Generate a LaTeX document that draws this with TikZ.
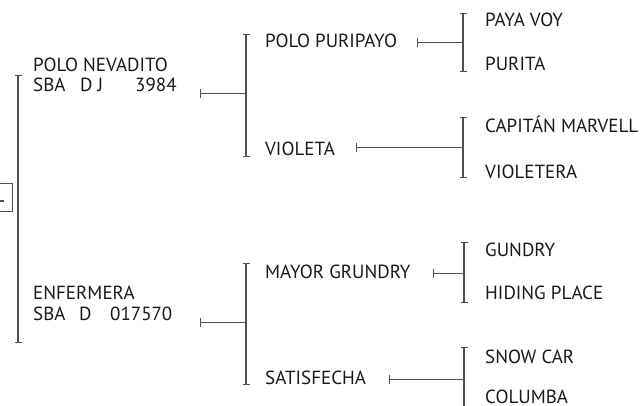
\documentclass[tikz,border=0pt]{standalone}
\usepackage{fontspec}
\setmainfont{PT Sans}
\usepackage{tikz}
\usetikzlibrary{arrows.meta,positioning,calc}
\definecolor{linegray}{RGB}{80,80,80}
\definecolor{textgray}{RGB}{25,25,25}

\tikzset{
    horse/.style={anchor=base west, inner sep=0pt, text=textgray, font=\fontsize{19}{21}\selectfont},
    bracket/.style={draw=linegray, line width=1.3pt, {Bar[width=7pt,line width=1pt]}-{Bar[width=7pt,line width=1pt]}},
    link/.style={draw=linegray, line width=1pt, {Bar[width=9pt,line width=1.2pt]}-}
}

\begin{document}
\begin{tikzpicture}[x=1pt, y=-1pt]
    \clip (0,0) rectangle (644,406);
    \useasboundingbox (0,0) rectangle (644,406);

    % collapse box on the left
    \node[draw=linegray, line width=1pt, minimum width=22pt, minimum height=28pt, inner sep=0pt] (toggle) at (1,197) {};
    \draw[linegray, line width=2pt] (0,201) -- (4,201);

    % parents
    \coordinate (b1t) at (18,75);
    \coordinate (b1b) at (18,343);
    \draw[bracket] (b1t) -- (b1b);
    \node[horse, align=left] (nevadito) at (33,92) {POLO NEVADITO\\[-1pt]\makebox[47pt][l]{SBA}\makebox[55pt][l]{D J}3984};
    \node[horse, align=left] (enfermera) at (33,320) {ENFERMERA\\[0pt]\makebox[46pt][l]{SBA}\makebox[31pt][l]{D}017570};

    % grandparents
    \coordinate (t1) at (200,94);
    \coordinate (b2t) at (246,34);
    \coordinate (b2b) at (246,157);
    \draw[link] (t1) -- (t1 -| b2t);
    \draw[bracket] (b2t) -- (b2b);
    \node[horse] (puripayo) at (265,48) {POLO PURIPAYO};
    \node[horse] (violeta) at (265,155) {VIOLETA};

    \coordinate (t2) at (200,322);
    \coordinate (b3t) at (246,263);
    \coordinate (b3b) at (246,385);
    \draw[link] (t2) -- (t2 -| b3t);
    \draw[bracket] (b3t) -- (b3b);
    \node[horse] (grundry) at (265,278) {MAYOR GRUNDRY};
    \node[horse] (satisfecha) at (265,384) {SATISFECHA};

    % great-grandparents
    \coordinate (t3) at (417,43);
    \coordinate (b4t) at (463,13);
    \coordinate (b4b) at (463,72);
    \draw[link] (t3) -- (t3 -| b4t);
    \draw[bracket] (b4t) -- (b4b);
    \node[horse] (payavoy) at (485,27) {PAYA VOY};
    \node[horse] (purita) at (485,71) {PURITA};

    \coordinate (t4) at (356,148);
    \coordinate (b5t) at (463,117);
    \coordinate (b5b) at (463,178);
    \draw[link] (t4) -- (t4 -| b5t);
    \draw[bracket] (b5t) -- (b5b);
    \node[horse] (marvell) at (485,133) {CAPITÁN MARVELL};
    \node[horse] (violetera) at (485,178) {VIOLETERA};

    \coordinate (t5) at (433,273);
    \coordinate (b6t) at (464,242);
    \coordinate (b6b) at (464,303);
    \draw[link] (t5) -- (t5 -| b6t);
    \draw[bracket] (b6t) -- (b6b);
    \node[horse] (gundry) at (485,256) {GUNDRY};
    \node[horse] (hiding) at (485,299) {HIDING PLACE};

    \coordinate (t6) at (389,379);
    \coordinate (b7t) at (464,347);
    \coordinate (b7b) at (464,411);
    \draw[link] (t6) -- (t6 -| b7t);
    \draw[bracket] (b7t) -- (b7b);
    \node[horse] (snowcar) at (485,363) {SNOW CAR};
    \node[horse] (columba) at (485,403) {COLUMBA};
\end{tikzpicture}
\end{document}
